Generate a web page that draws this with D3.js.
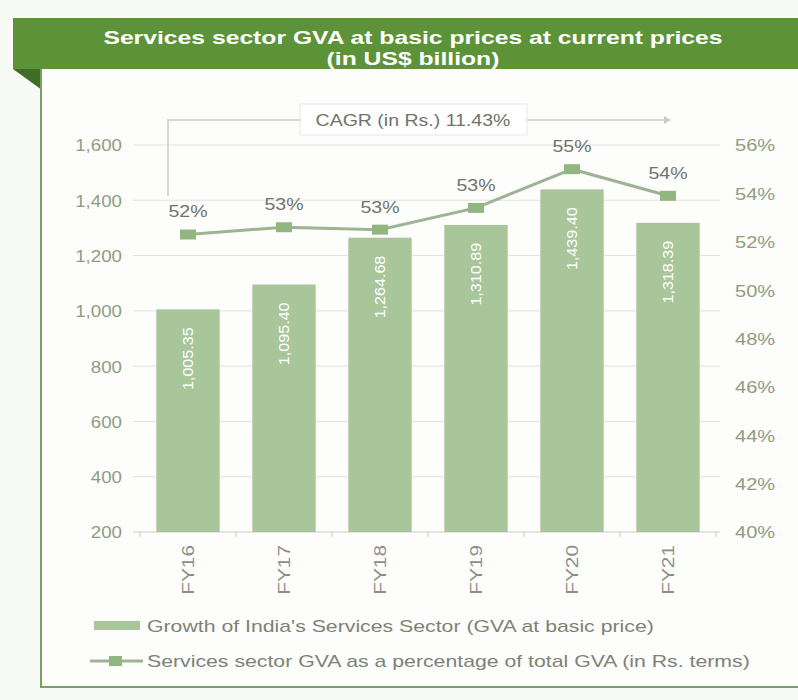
<!DOCTYPE html>
<html>
<head>
<meta charset="utf-8">
<script src="https://cdn.jsdelivr.net/npm/d3@7"></script>
<style>
  body { margin: 0; background: #f7faf5; }
  svg { display: block; font-family: "Liberation Sans", Arial, sans-serif; }
</style>
</head>
<body>
<div id="chart"></div>
<script>
// values
const years = ["FY16", "FY17", "FY18", "FY19", "FY20", "FY21"];
const gva = [1005.35, 1095.40, 1264.68, 1310.89, 1439.40, 1318.39];
const gvaShare = [52.3, 52.6, 52.5, 53.4, 55.0, 53.9];
const leftTicks = [200, 400, 600, 800, 1000, 1200, 1400, 1600];
const rightTicks = [40, 42, 44, 46, 48, 50, 52, 54, 56];
const titleLines = ["Services sector GVA at basic prices at current prices", "(in US$ billion)"];
const cagrText = "CAGR (in Rs.) 11.43%";
const legendLabels = [
  "Growth of India's Services Sector (GVA at basic price)",
  "Services sector GVA as a percentage of total GVA (in Rs. terms)"
];

const width = 798, height = 700;
const barColor = "#a9c69b", lineColor = "#9db393", markColor = "#92b67f";
const axisText = "#8e9c82";

// the source picture is a bit wider than it is tall, so widen the text to suit
function stretch(sel, k) {
  sel.each(function () {
    const len = this.getComputedTextLength();
    d3.select(this).attr("textLength", len * k).attr("lengthAdjust", "spacingAndGlyphs");
  });
}

const svg = d3.select("#chart").append("svg")
  .attr("width", width)
  .attr("height", height);

// frame: header band, folded corner, left + bottom border
svg.append("rect").attr("x", 41).attr("y", 69).attr("width", width - 41).attr("height", 618)
  .attr("fill", "#fdfefc");
svg.append("rect").attr("x", 13).attr("y", 18).attr("width", width - 13).attr("height", 51)
  .attr("fill", "#5d9338");
svg.append("path").attr("d", "M13,69 L42,69 L42,90 Z").attr("fill", "#3f6d27");
svg.append("path").attr("d", `M41,69 L41,687 L${width},687`)
  .attr("fill", "none").attr("stroke", "#79a063").attr("stroke-width", 2);

const title = svg.selectAll("text.title")
  .data(titleLines)
  .enter()
  .append("text")
  .attr("class", "title")
  .attr("x", 413)
  .attr("y", (d, i) => 44 + i * 21)
  .attr("text-anchor", "middle")
  .attr("fill", "#ffffff")
  .style("font-weight", "bold")
  .style("font-size", "19px")
  .text(d => d);
stretch(title, 1.3);

// scales
const x = d3.scaleBand().domain(years).range([140, 716]).paddingInner(0.34).paddingOuter(0.17);
const yLeft = d3.scaleLinear().domain([200, 1600]).range([532, 145]);
const yRight = d3.scaleLinear().domain([40, 56]).range([532, 145]);

// gridlines
svg.append("g")
  .selectAll("line")
  .data(leftTicks)
  .enter()
  .append("line")
  .attr("x1", 133).attr("x2", 720)
  .attr("y1", d => yLeft(d)).attr("y2", d => yLeft(d))
  .attr("stroke", d => d === 200 ? "#c9cdc5" : "#e0e3dd")
  .attr("stroke-width", 1);

// left axis
const leftAxis = svg.append("g")
  .attr("transform", "translate(133,0)")
  .call(d3.axisLeft(yLeft).tickValues(leftTicks).tickSize(0).tickPadding(11).tickFormat(d3.format(",")));
leftAxis.select(".domain").remove();
leftAxis.selectAll("text").attr("fill", axisText).style("font-size", "17px").attr("dy", "0.35em");
stretch(leftAxis.selectAll("text"), 1.1);

// right axis
const rightAxis = svg.append("g")
  .attr("transform", "translate(720,0)")
  .call(d3.axisRight(yRight).tickValues(rightTicks).tickSize(0).tickPadding(15).tickFormat(d => d + "%"));
rightAxis.select(".domain").remove();
rightAxis.selectAll("text").attr("fill", axisText).style("font-size", "17px").attr("dy", "0.35em");
stretch(rightAxis.selectAll("text"), 1.18);

// bottom axis
const bottomAxis = svg.append("g")
  .attr("transform", "translate(0,532)")
  .call(d3.axisBottom(x).tickSize(0));
bottomAxis.select(".domain").remove();
bottomAxis.selectAll("text")
  .attr("fill", "#8b8f88")
  .style("font-size", "16px")
  .attr("transform", "rotate(-90)")
  .attr("x", -13)
  .attr("y", 0)
  .attr("dy", "0.35em")
  .style("text-anchor", "end");
stretch(bottomAxis.selectAll("text"), 1.3);
svg.append("g")
  .selectAll("line")
  .data(d3.range(years.length + 1))
  .enter()
  .append("line")
  .attr("x1", i => 140 + i * x.step()).attr("x2", i => 140 + i * x.step())
  .attr("y1", 532).attr("y2", 537)
  .attr("stroke", "#c9cdc5");

// bars
svg.append("g")
  .selectAll("rect")
  .data(years)
  .enter()
  .append("rect")
  .attr("x", d => x(d))
  .attr("y", (d, i) => yLeft(gva[i]))
  .attr("width", x.bandwidth())
  .attr("height", (d, i) => yLeft(200) - yLeft(gva[i]))
  .attr("fill", barColor);

const barLabels = svg.append("g")
  .selectAll("text")
  .data(years)
  .enter()
  .append("text")
  .attr("transform", (d, i) => `translate(${x(d) + x.bandwidth() / 2},${yLeft(gva[i]) + 18}) rotate(-90)`)
  .attr("dy", "0.35em")
  .attr("text-anchor", "end")
  .attr("fill", "#ffffff")
  .style("font-size", "14px")
  .text((d, i) => d3.format(",.2f")(gva[i]));
stretch(barLabels, 1.15);

// share line
const cx = d => x(d) + x.bandwidth() / 2;
const line = d3.line().x(d => cx(d)).y((d, i) => yRight(gvaShare[i]));
svg.append("path")
  .datum(years)
  .attr("d", line)
  .attr("fill", "none")
  .attr("stroke", lineColor)
  .attr("stroke-width", 3);

svg.append("g")
  .selectAll("rect")
  .data(years)
  .enter()
  .append("rect")
  .attr("x", d => cx(d) - 8)
  .attr("y", (d, i) => yRight(gvaShare[i]) - 5)
  .attr("width", 16)
  .attr("height", 10)
  .attr("fill", markColor);

const shareLabels = svg.append("g")
  .selectAll("text")
  .data(years)
  .enter()
  .append("text")
  .attr("x", d => cx(d))
  .attr("y", (d, i) => yRight(gvaShare[i]) - 17)
  .attr("text-anchor", "middle")
  .attr("fill", "#6f736c")
  .style("font-size", "16px")
  .text((d, i) => Math.round(gvaShare[i]) + "%");
stretch(shareLabels, 1.22);

// CAGR bracket
const cagrY = 120;
svg.append("path")
  .attr("d", `M168,196 L168,${cagrY} L300,${cagrY} M527,${cagrY} L664,${cagrY}`)
  .attr("fill", "none").attr("stroke", "#c9ccc6").attr("stroke-width", 1.5);
svg.append("path")
  .attr("d", `M664,${cagrY - 4} L671,${cagrY} L664,${cagrY + 4} Z`)
  .attr("fill", "#c9ccc6");
svg.append("rect")
  .attr("x", 300).attr("y", 104).attr("width", 227).attr("height", 31)
  .attr("fill", "#ffffff").attr("stroke", "#e6e8e4");
const cagr = svg.append("text")
  .attr("x", 413).attr("y", cagrY + 6)
  .attr("text-anchor", "middle")
  .attr("fill", "#6f736c")
  .style("font-size", "16px")
  .text(cagrText);
stretch(cagr, 1.22);

// legend
const legend = svg.append("g");
legend.append("rect").attr("x", 94).attr("y", 621).attr("width", 46).attr("height", 9).attr("fill", barColor);
legend.append("line").attr("x1", 90).attr("x2", 143).attr("y1", 661).attr("y2", 661)
  .attr("stroke", lineColor).attr("stroke-width", 3);
legend.append("rect").attr("x", 109).attr("y", 656).attr("width", 13).attr("height", 10).attr("fill", markColor);
const legendText = legend.selectAll("text")
  .data(legendLabels)
  .enter()
  .append("text")
  .attr("x", 147)
  .attr("y", (d, i) => 626 + i * 35)
  .attr("dy", "0.35em")
  .attr("fill", "#7c8276")
  .style("font-size", "17px")
  .text(d => d);
stretch(legendText, 1.25);
</script>
</body>
</html>
